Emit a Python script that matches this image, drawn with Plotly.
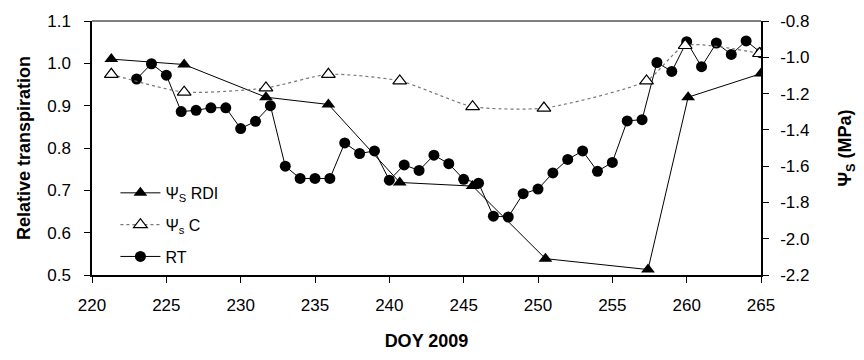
import plotly.graph_objects as go

# Relative transpiration (RT), daily
rt_doy = list(range(223, 266))
rt_val = [0.963, 0.999, 0.972, 0.886, 0.889, 0.895, 0.895, 0.846, 0.863, 0.900,
          0.757, 0.728, 0.728, 0.728, 0.812, 0.787, 0.793, 0.724, 0.760, 0.747,
          0.783, 0.763, 0.726, 0.717, 0.639, 0.637, 0.692, 0.703, 0.741, 0.773,
          0.793, 0.745, 0.766, 0.864, 0.867, 1.002, 0.981, 1.051, 0.992, 1.048,
          1.021, 1.053, 1.025]

# Stem water potential, RDI and control
psi_doy = [221.3, 226.2, 231.7, 235.9, 240.7, 245.6, 250.5, 257.4, 260.1, 265.0]
psi_rdi = [-1.01, -1.04, -1.22, -1.26, -1.69, -1.71, -2.11, -2.17, -1.22, -1.09]
psi_c_doy = [221.3, 226.2, 231.7, 235.9, 240.7, 245.6, 250.4, 257.3, 259.9, 264.9]
psi_c = [-1.094, -1.192, -1.169, -1.094, -1.130, -1.272, -1.280, -1.130, -0.935, -0.979]

x_ticks = [220, 225, 230, 235, 240, 245, 250, 255, 260, 265]
y_ticks = [0.5, 0.6, 0.7, 0.8, 0.9, 1.0, 1.1]
y2_ticks = [-2.2, -2.0, -1.8, -1.6, -1.4, -1.2, -1.0, -0.8]
y2_labels = [f"{v:.1f}" for v in y2_ticks]

FONT = "Liberation Sans, Arial, sans-serif"

fig = go.Figure()
fig.add_trace(go.Scatter(
    x=rt_doy, y=rt_val, name="RT", mode="lines+markers", legendrank=3, legendgroup="rt",
    line=dict(color="black", width=1),
    marker=dict(symbol="circle", size=11, color="black"),
))
fig.add_trace(go.Scatter(
    x=psi_doy, y=psi_rdi, name="Ψ<sub>S</sub> RDI", mode="lines+markers", yaxis="y2",
    legendrank=1, legendgroup="rdi",
    line=dict(color="black", width=1),
    marker=dict(symbol="triangle-up", size=12, color="black"),
))
fig.add_trace(go.Scatter(
    x=psi_c_doy, y=psi_c, name="Ψ<sub>s</sub> C", mode="lines+markers", yaxis="y2",
    legendrank=2, legendgroup="c",
    line=dict(color="#777777", width=1.2, dash="dot", shape="spline", smoothing=0.6),
    marker=dict(symbol="triangle-up", size=12, color="white", line=dict(color="black", width=1.2)),
))

fig.add_shape(type="line", xref="paper", yref="paper", x0=0, x1=1, y0=1, y1=1,
              line=dict(color="#555555", width=1.5))

fig.update_layout(
    width=864, height=360,
    margin=dict(l=92, r=98, t=18, b=79),
    paper_bgcolor="white", plot_bgcolor="white",
    font=dict(family=FONT, size=17, color="black"),
    showlegend=True,
    legend=dict(x=0.035, y=0.39, xanchor="left", yanchor="top", tracegroupgap=8,
                bgcolor="rgba(0,0,0,0)", font=dict(size=16), itemwidth=40),
    xaxis=dict(range=[220, 265], tickvals=x_ticks, showgrid=False, zeroline=False,
               showline=True, linecolor="black", linewidth=1.5,
               ticks="outside", ticklen=6, tickcolor="black", ticklabelstandoff=8,
               tickfont=dict(size=17),
               title=dict(text="<b>DOY 2009</b>", font=dict(size=18), standoff=20)),
    yaxis=dict(range=[0.5, 1.1], tickvals=y_ticks, tickformat=".1f", showgrid=False, zeroline=False,
               showline=True, linecolor="black", linewidth=1.5,
               ticks="outside", ticklen=6, tickcolor="black", ticklabelstandoff=10,
               tickfont=dict(size=17),
               title=dict(text="<b>Relative transpiration</b>", font=dict(size=18), standoff=12)),
    yaxis2=dict(range=[-2.2, -0.8], tickvals=y2_ticks, ticktext=y2_labels, overlaying="y", side="right",
                showgrid=False, zeroline=False, showline=True, linecolor="black", linewidth=1.5,
                ticks="outside", ticklen=6, tickcolor="black", ticklabelstandoff=8,
                tickfont=dict(size=17),
                title=dict(text="<b>Ψ<sub>S</sub> (MPa)</b>", font=dict(size=18), standoff=30)),
)

fig.write_html("out.html")
